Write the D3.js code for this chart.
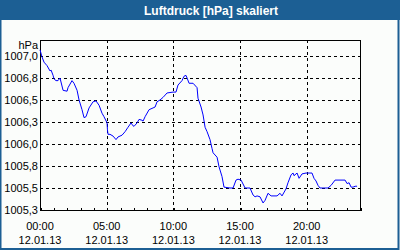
<!DOCTYPE html>
<html>
<head>
<meta charset="utf-8">
<script src="https://cdn.jsdelivr.net/npm/d3@7"></script>
<style>
  body { margin: 0; background: #fff; }
  svg { display: block; }
  text { font-family: "Liberation Sans", Arial, sans-serif; }
</style>
</head>
<body>
<svg id="chart"></svg>
<script>
// hours since 12.01.13 00:00
const hours = [0, 0.15, 0.3, 0.53, 0.75, 0.83, 0.98, 1.05, 1.2, 1.35, 1.5, 1.73, 2.03, 2.1, 2.4, 2.55,
  2.78, 2.93, 3.15, 3.3, 3.45, 3.68, 3.98, 4.2, 4.43, 4.65, 4.8, 5.03, 5.06, 5.1, 5.25, 5.48, 5.7,
  5.85, 6.15, 6.38, 6.6, 6.83, 6.9, 7.05, 7.28, 7.43, 7.65, 7.73, 7.88, 8.18, 8.48, 8.63, 8.78, 9.0,
  9.23, 9.53, 9.98, 10.2, 10.35, 10.65, 10.8, 10.95, 11.03, 11.18, 11.48, 11.78, 11.85, 12.08, 12.23,
  12.38, 12.53, 12.75, 12.9, 12.98, 13.28, 13.43, 13.65, 13.8, 14.25, 14.48, 14.7, 14.85, 15.08,
  15.38, 15.75, 15.98, 16.13, 16.28, 16.5, 16.73, 16.88, 17.1, 17.33, 17.78, 18.0, 18.15, 18.45,
  18.6, 18.83, 18.98, 19.05, 19.28, 19.43, 19.65, 19.95, 20.18, 20.4, 20.55, 20.7, 20.85, 21.0,
  21.6, 21.83, 22.13, 22.88, 23.03, 23.18, 23.33, 23.48, 23.63, 23.78];

const pressure = [1007.12, 1007.04, 1006.98, 1006.94, 1006.88, 1006.89, 1006.83, 1006.79, 1006.77,
  1006.77, 1006.80, 1006.66, 1006.65, 1006.69, 1006.77, 1006.74, 1006.66, 1006.55, 1006.44, 1006.35,
  1006.36, 1006.46, 1006.53, 1006.54, 1006.49, 1006.40, 1006.36, 1006.29, 1006.21, 1006.16, 1006.16,
  1006.14, 1006.10, 1006.13, 1006.15, 1006.19, 1006.24, 1006.29, 1006.27, 1006.25, 1006.29, 1006.33,
  1006.32, 1006.31, 1006.36, 1006.44, 1006.46, 1006.47, 1006.53, 1006.55, 1006.58, 1006.63, 1006.64,
  1006.64, 1006.72, 1006.77, 1006.82, 1006.83, 1006.80, 1006.74, 1006.74, 1006.69, 1006.57, 1006.47,
  1006.38, 1006.24, 1006.19, 1006.10, 1006.00, 1005.95, 1005.90, 1005.79, 1005.68, 1005.56, 1005.55,
  1005.55, 1005.64, 1005.65, 1005.64, 1005.55, 1005.55, 1005.47, 1005.45, 1005.46, 1005.45, 1005.38,
  1005.41, 1005.49, 1005.46, 1005.46, 1005.49, 1005.46, 1005.54, 1005.61, 1005.70, 1005.72, 1005.69,
  1005.72, 1005.66, 1005.71, 1005.72, 1005.72, 1005.72, 1005.66, 1005.63, 1005.58, 1005.55, 1005.55,
  1005.58, 1005.64, 1005.64, 1005.60, 1005.61, 1005.56, 1005.56, 1005.57, 1005.57];

const yTickValues = [1005.3, 1005.55, 1005.8, 1006.05, 1006.3, 1006.55, 1006.8, 1007.05];
const yTickLabels = ["1005,3", "1005,5", "1005,8", "1006,0", "1006,3", "1006,5", "1006,8", "1007,0"];
const xTickValues = [0, 5, 10, 15, 20];
const xTickLabels = ["00:00", "05:00", "10:00", "15:00", "20:00"];
const dateLabel = "12.01.13";
const title = "Luftdruck [hPa] skaliert";
const unit = "hPa";

const width = 400, height = 250;
const margin = { top: 40, right: 40, bottom: 40, left: 40 };

const svg = d3.select('#chart')
    .attr('width', width)
    .attr('height', height);

// background + frame
svg.append('rect')
    .attr('width', width).attr('height', height)
    .attr('fill', '#fbfdfb');
svg.append('rect')
    .attr('width', width).attr('height', 20)
    .attr('fill', '#1c5f94');
svg.append('path')
    .attr('d', `M0.5,20 V249 H398.5 V20`)
    .attr('fill', 'none')
    .attr('stroke', '#1c5f94')
    .attr('stroke-width', 2);

svg.append('text')
    .attr('x', 211).attr('y', 14.5)
    .attr('text-anchor', 'middle')
    .attr('fill', '#fff')
    .attr('font-weight', 'bold')
    .attr('font-size', 12)
    .text(title);

const x = d3.scaleLinear()
    .domain([0, 24])
    .range([margin.left, width - margin.right]);

// 22px per 0.25 hPa
const y = d3.scaleLinear()
    .domain([1005.3, 1005.3 + 170 / 88])
    .range([height - margin.bottom, margin.top]);

// grid
const grid = svg.append('g')
    .attr('stroke', '#000')
    .attr('stroke-dasharray', '3,3')
    .attr('shape-rendering', 'crispEdges');

grid.selectAll('.hgrid')
    .data(yTickValues.slice(1))
    .join('line')
    .attr('x1', x(0)).attr('x2', x(24))
    .attr('y1', d => Math.round(y(d)) + 0.5)
    .attr('y2', d => Math.round(y(d)) + 0.5);

grid.selectAll('.vgrid')
    .data(xTickValues.slice(1))
    .join('line')
    .attr('y1', y.range()[1]).attr('y2', y.range()[0])
    .attr('x1', d => Math.round(x(d)) + 0.5)
    .attr('x2', d => Math.round(x(d)) + 0.5);

// plot frame
svg.append('rect')
    .attr('x', x(0) + 0.5).attr('y', y.range()[1] + 0.5)
    .attr('width', x(24) - x(0)).attr('height', y.range()[0] - y.range()[1])
    .attr('fill', 'none')
    .attr('stroke', '#000')
    .attr('shape-rendering', 'crispEdges');

// hourly ticks on the bottom axis
svg.append('g')
    .attr('transform', `translate(0.5,${y.range()[0] + 0.5})`)
    .call(d3.axisBottom(x).ticks(24).tickSize(-3).tickFormat(''))
    .call(g => g.select('.domain').remove())
    .attr('shape-rendering', 'crispEdges');

// y labels
svg.append('g')
    .selectAll('text')
    .data(yTickValues)
    .join('text')
    .attr('x', 38)
    .attr('y', d => y(d) + 4)
    .attr('text-anchor', 'end')
    .attr('font-size', 11)
    .attr('fill', '#000')
    .text((d, i) => yTickLabels[i]);

svg.append('text')
    .attr('x', 38).attr('y', 49)
    .attr('text-anchor', 'end')
    .attr('font-size', 11)
    .text(unit);

// x labels, two lines
const xl = svg.append('g')
    .selectAll('g')
    .data(xTickValues)
    .join('g')
    .attr('transform', d => `translate(${x(d)},0)`);
xl.append('text')
    .attr('y', 230)
    .attr('text-anchor', 'middle')
    .attr('font-size', 11)
    .text((d, i) => xTickLabels[i]);
xl.append('text')
    .attr('y', 244)
    .attr('text-anchor', 'middle')
    .attr('font-size', 11)
    .text(dateLabel);

// data line
const line = d3.line()
    .x(d => x(d[0]))
    .y(d => y(d[1]));

svg.append('path')
    .datum(d3.zip(hours, pressure))
    .attr('fill', 'none')
    .attr('stroke', '#0000ff')
    .attr('stroke-width', 1)
    .attr('d', line);
</script>
</body>
</html>
